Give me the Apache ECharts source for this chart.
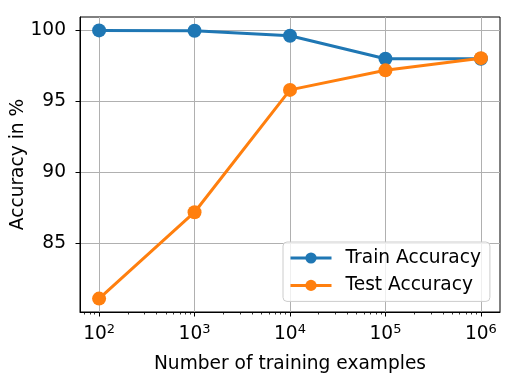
<!DOCTYPE html>
<html>
<head>
<meta charset="utf-8">
<script src="https://cdn.jsdelivr.net/npm/echarts@6/dist/echarts.min.js"></script>
<style>html,body{margin:0;padding:0;background:#fff}#c{width:515px;height:373px}</style>
</head>
<body>
<div id="c"></div>
<script>
const examples = [100, 1000, 10000, 100000, 1000000];
const trainAccuracy = [100.0, 99.98, 99.62, 98.0, 98.0];
const testAccuracy = [81.06, 87.16, 95.8, 97.18, 98.04];
const xTickValues = [100, 1000, 10000, 100000, 1000000];
const yTickValues = [85, 90, 95, 100];
const seriesNames = ['Train Accuracy', 'Test Accuracy'];

const FONT = 'DejaVu Sans';
const FS = 18.6;
// matplotlib-like 5% margins
const allY = trainAccuracy.concat(testAccuracy);
const yLo = Math.min(...allY), yHi = Math.max(...allY);
const yMin = yLo - 0.05 * (yHi - yLo), yMax = yHi + 0.05 * (yHi - yLo);
const lx0 = Math.log10(examples[0]), lx1 = Math.log10(examples[examples.length - 1]);
const xMin = Math.pow(10, lx0 - 0.05 * (lx1 - lx0)), xMax = Math.pow(10, lx1 + 0.05 * (lx1 - lx0));
const minorTicks = [];
for (let d = 1; d <= 6; d++) for (let k = 2; k <= 9; k++) {
  const v = k * Math.pow(10, d);
  if (v > xMin && v < xMax) minorTicks.push(v);
}

const chart = echarts.init(document.getElementById('c'), null, {renderer: 'canvas'});
const axisTxt = {fontFamily: FONT, fontSize: FS, color: '#000'};
chart.setOption({
  animation: false,
  textStyle: {fontFamily: FONT},
  grid: {left: 80, top: 17, width: 420, height: 295, show: true, borderColor: '#000', borderWidth: 1,
         backgroundColor: 'transparent', containLabel: false, outerBoundsMode: 'none'},
  legend: {
    data: seriesNames,
    orient: 'vertical',
    left: 283, top: 242,
    backgroundColor: 'rgba(255,255,255,0.8)',
    borderColor: '#cccccc', borderWidth: 1, borderRadius: 4,
    padding: [6, 9, 6, 6],
    itemWidth: 41, itemHeight: 14, itemGap: 7.4,
    lineStyle: {width: 3},
    textStyle: {fontFamily: FONT, fontSize: FS, color: '#000', lineHeight: 20, padding: [0, 0, 0, 9]}
  },
  xAxis: [{
    type: 'log', logBase: 10, min: xMin, max: xMax,
    name: 'Number of training examples', nameLocation: 'middle', nameGap: 43, nameMoveOverlap: false,
    nameTextStyle: axisTxt,
    axisLine: {show: true, lineStyle: {color: '#000', width: 1}},
    axisTick: {show: true, length: 4.5, lineStyle: {color: '#000', width: 1}, customValues: xTickValues},
    axisLabel: {
      margin: 11, customValues: xTickValues, showMinLabel: true, showMaxLabel: true,
      formatter: function (v) { return '{b|10}{s|' + Math.round(Math.log10(v)) + '}'; },
      rich: {
        b: {fontFamily: FONT, fontSize: FS, color: '#000', lineHeight: 22},
        s: {fontFamily: FONT, fontSize: 13, color: '#000', verticalAlign: 'top', lineHeight: 14}
      }
    },
    splitLine: {show: true, lineStyle: {color: '#b0b0b0', width: 1}},
    minorSplitLine: {show: false}
  }, {
    type: 'log', logBase: 10, min: xMin, max: xMax, position: 'bottom',
    axisLine: {show: false},
    axisTick: {show: true, length: 2.5, lineStyle: {color: '#000', width: 0.8}, customValues: minorTicks},
    axisLabel: {show: false},
    splitLine: {show: false}
  }],
  yAxis: {
    type: 'value', min: yMin, max: yMax,
    name: 'Accuracy in %', nameLocation: 'middle', nameGap: 52, nameMoveOverlap: false,
    nameTextStyle: axisTxt,
    axisLine: {show: true, lineStyle: {color: '#000', width: 1}},
    axisTick: {show: true, length: 4.5, lineStyle: {color: '#000', width: 1}, customValues: yTickValues},
    axisLabel: {margin: 14, customValues: yTickValues, fontFamily: FONT, fontSize: FS, color: '#000'},
    splitLine: {show: true, lineStyle: {color: '#b0b0b0', width: 1}}
  },
  series: [{
    name: seriesNames[0], type: 'line', xAxisIndex: 0,
    data: examples.map((x, i) => [x, trainAccuracy[i]]),
    symbol: 'circle', symbolSize: 14,
    lineStyle: {color: '#1f77b4', width: 3},
    itemStyle: {color: '#1f77b4'}, z: 3
  }, {
    name: seriesNames[1], type: 'line', xAxisIndex: 0,
    data: examples.map((x, i) => [x, testAccuracy[i]]),
    symbol: 'circle', symbolSize: 14,
    lineStyle: {color: '#ff7f0e', width: 3},
    itemStyle: {color: '#ff7f0e'}, z: 4
  }]
});
</script>
</body>
</html>
